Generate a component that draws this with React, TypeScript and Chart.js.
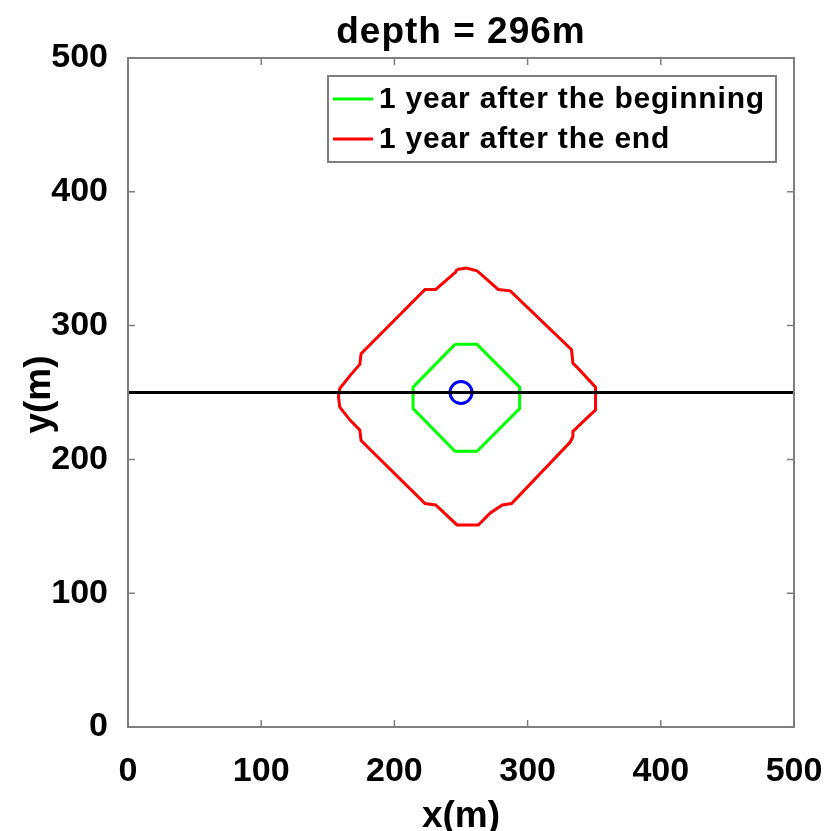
import React, { useEffect, useRef } from "react";
import { Chart, registerables } from "chart.js";

Chart.register(...registerables);

const titleText = "depth = 296m";
const xTitle = "x(m)";
const yTitle = "y(m)";
const xTicks = [0, 100, 200, 300, 400, 500];
const yTicks = [0, 100, 200, 300, 400, 500];

const greenLabel = "1 year after the beginning";
const greenX = [245.5, 262, 294, 294, 262, 245.5, 214, 214, 245.5];
const greenY = [286, 286, 254, 238, 206, 206, 238, 254, 286];

const redLabel = "1 year after the end";
const redX = [247, 254, 262, 278, 287, 333, 334, 337, 351, 351, 334, 334, 332, 288, 281, 272, 263, 247, 231, 223, 175, 174, 167, 159, 158, 159, 167, 174, 175, 223, 231, 246, 247];
const redY = [342, 343, 341, 327, 326, 282, 272, 269, 254, 237, 221, 217, 213, 167, 166, 160, 151, 151, 166, 167, 214, 222, 229, 239, 247, 253, 263, 271, 279, 327, 327, 340, 342];

const lineX = [0, 500];
const lineY = [250, 250];

const wellX = [250];
const wellY = [250];

const FONT = '"Liberation Sans", Arial, Helvetica, sans-serif';
const AXIS_COLOR = "#7f7f7f";

const zip = (xs: number[], ys: number[]) => xs.map((x, i) => ({ x, y: ys[i] }));

const decorPlugin = {
  id: "decor",
  afterDraw(chart: any) {
    const ctx = chart.ctx as CanvasRenderingContext2D;
    const a = chart.chartArea;
    const xs = chart.scales.x;
    const ys = chart.scales.y;
    ctx.save();
    // box
    ctx.strokeStyle = AXIS_COLOR;
    ctx.lineWidth = 2;
    ctx.strokeRect(a.left, a.top, a.right - a.left, a.bottom - a.top);
    // inward ticks
    ctx.lineWidth = 1.5;
    const tl = 7;
    xTicks.forEach((v) => {
      const px = xs.getPixelForValue(v);
      ctx.beginPath();
      ctx.moveTo(px, a.bottom);
      ctx.lineTo(px, a.bottom - tl);
      ctx.moveTo(px, a.top);
      ctx.lineTo(px, a.top + tl);
      ctx.stroke();
    });
    yTicks.forEach((v) => {
      const py = ys.getPixelForValue(v);
      ctx.beginPath();
      ctx.moveTo(a.left, py);
      ctx.lineTo(a.left + tl, py);
      ctx.moveTo(a.right, py);
      ctx.lineTo(a.right - tl, py);
      ctx.stroke();
    });

    const cx = (a.left + a.right) / 2;
    const cy = (a.top + a.bottom) / 2;
    ctx.fillStyle = "#000";
    // title
    ctx.font = `bold 37px ${FONT}`;
    (ctx as any).letterSpacing = "1px";
    ctx.textAlign = "center";
    ctx.textBaseline = "alphabetic";
    ctx.fillText(titleText, cx, a.top - 15);
    // x title
    ctx.font = `bold 37px ${FONT}`;
    (ctx as any).letterSpacing = "0px";
    ctx.fillText(xTitle, cx, chart.height - 4);
    // y title
    ctx.save();
    ctx.translate(50, cy + 2);
    ctx.rotate(-Math.PI / 2);
    ctx.fillText(yTitle, 0, 0);
    ctx.restore();

    // legend
    const lx = 328, ly = 76, lw = 448, lh = 86;
    ctx.fillStyle = "#fff";
    ctx.fillRect(lx, ly, lw, lh);
    ctx.strokeStyle = AXIS_COLOR;
    ctx.lineWidth = 2;
    ctx.strokeRect(lx, ly, lw, lh);
    const items = chart.data.datasets.filter((d: any) => d.showInLegend);
    ctx.font = `bold 30px ${FONT}`;
    (ctx as any).letterSpacing = "0.8px";
    ctx.textAlign = "left";
    ctx.textBaseline = "middle";
    items.forEach((d: any, i: number) => {
      const y = ly + 23 + i * 40;
      ctx.strokeStyle = d.borderColor;
      ctx.lineWidth = 3;
      ctx.beginPath();
      ctx.moveTo(lx + 5, y);
      ctx.lineTo(lx + 45, y);
      ctx.stroke();
      ctx.fillStyle = "#000";
      ctx.fillText(d.label, lx + 51, y + 1);
    });
    ctx.restore();
  },
};

export default function App() {
  const ref = useRef<HTMLCanvasElement | null>(null);
  useEffect(() => {
    document.body.style.margin = "0";
    if (!ref.current) return;
    const chart = new Chart(ref.current, {
      type: "scatter",
      data: {
        datasets: [
          {
            label: "line",
            data: zip(lineX, lineY),
            showLine: true,
            borderColor: "#000000",
            borderWidth: 3,
            pointRadius: 0,
            showInLegend: false,
          } as any,
          {
            label: greenLabel,
            data: zip(greenX, greenY),
            showLine: true,
            borderColor: "#00ff00",
            borderWidth: 3,
            pointRadius: 0,
            showInLegend: true,
          } as any,
          {
            label: redLabel,
            data: zip(redX, redY),
            showLine: true,
            borderColor: "#ff0000",
            borderWidth: 3,
            pointRadius: 0,
            showInLegend: true,
          } as any,
          {
            label: "well",
            data: zip(wellX, wellY),
            showLine: false,
            pointStyle: "circle",
            pointRadius: 11,
            borderColor: "#0000ff",
            backgroundColor: "rgba(0,0,0,0)",
            pointBorderWidth: 3,
            borderWidth: 3,
            showInLegend: false,
          } as any,
        ],
      },
      options: {
        animation: false,
        responsive: false,
        maintainAspectRatio: false,
        layout: { padding: { top: 58, right: 33, left: 0, bottom: 0 } },
        plugins: {
          legend: { display: false },
          title: { display: false },
          tooltip: { enabled: false },
        },
        scales: {
          x: {
            type: "linear",
            min: 0,
            max: 500,
            grid: { display: false },
            border: { display: false },
            ticks: {
              stepSize: 100,
              color: "#000",
              font: { family: FONT, size: 34, weight: "bold" },
              padding: 16,
              maxRotation: 0,
              autoSkip: false,
            },
            afterFit: (s: any) => {
              s.height = 104;
              s.paddingLeft = 0;
              s.paddingRight = 0;
            },
          },
          y: {
            type: "linear",
            min: 0,
            max: 500,
            grid: { display: false },
            border: { display: false },
            ticks: {
              stepSize: 100,
              color: "#000",
              font: { family: FONT, size: 34, weight: "bold" },
              padding: 12,
              autoSkip: false,
            },
            afterFit: (s: any) => {
              s.width = 128;
              s.paddingTop = 0;
              s.paddingBottom = 0;
            },
          },
        },
      } as any,
      plugins: [decorPlugin],
    });
    return () => chart.destroy();
  }, []);
  return (
    <div style={{ width: 827, height: 831, background: "#fff" }}>
      <canvas ref={ref} width={827} height={831} style={{ display: "block" }} />
    </div>
  );
}
